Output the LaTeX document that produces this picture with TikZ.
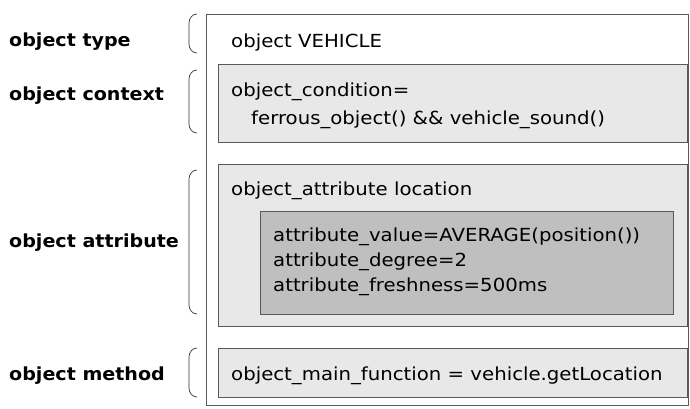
\documentclass[tikz,border=0pt]{standalone}
\usepackage{fontspec}
\setmainfont{DejaVu Sans}
\newfontfamily\codefont[FakeStretch=1.095]{DejaVu Sans}
\newfontfamily\tagfont[FakeStretch=1.06]{DejaVu Sans Bold}
\begin{document}
\begin{tikzpicture}[x=1pt,y=-1pt,
  frame/.style={draw=black!65,line width=0.8pt},
  boxlight/.style={frame,fill=black!9},
  boxdark/.style={frame,fill=black!25},
  code/.style={anchor=base west,inner sep=0pt,font=\codefont\fontsize{18}{25}\selectfont},
  tag/.style={anchor=base west,inner sep=0pt,font=\tagfont\fontsize{18}{25}\selectfont},
  brace/.style={draw=black!80,line width=0.7pt}]
\useasboundingbox (0,0) rectangle (690,408);

% containers
\draw[frame,fill=white] (206,14) rectangle (688,405);
\draw[boxlight] (218,64) rectangle (687,142);
\draw[boxlight] (218,164) rectangle (687,326);
\draw[boxdark] (260,211) rectangle (673,314);
\draw[boxlight] (218,348) rectangle (687,397);

% left-hand labels
\node[tag] (ltype) at (9,46) {object type};
\node[tag] (lctx) at (9,100) {object context};
\node[tag] (lattr) at (9,247) {object attribute};
\node[tag] (lmeth) at (9,380) {object method};

% braces
\foreach \ya/\yb in {14/53, 70/133, 170/314, 348/397}{
  \draw[brace] (197,\ya) to[out=180,in=90] (189,\ya+9) -- (189,\yb-9) to[out=-90,in=180] (197,\yb);
}

% box contents
\node[code] (otype) at (231,47) {object VEHICLE};
\node[code] (ocond) at (231,96) {object\_condition=};
\node[code] (ocond2) at (251,124) {ferrous\_object() \&\& vehicle\_sound()};
\node[code] (oattr) at (231,195) {object\_attribute location};
\node[code] (aval) at (273,241) {attribute\_value=AVERAGE(position())};
\node[code] (adeg) at (273,266) {attribute\_degree=2};
\node[code] (afresh) at (273,291) {attribute\_freshness=500ms};
\node[code] (ometh) at (231,380) {object\_main\_function = vehicle.getLocation};
\end{tikzpicture}
\end{document}
